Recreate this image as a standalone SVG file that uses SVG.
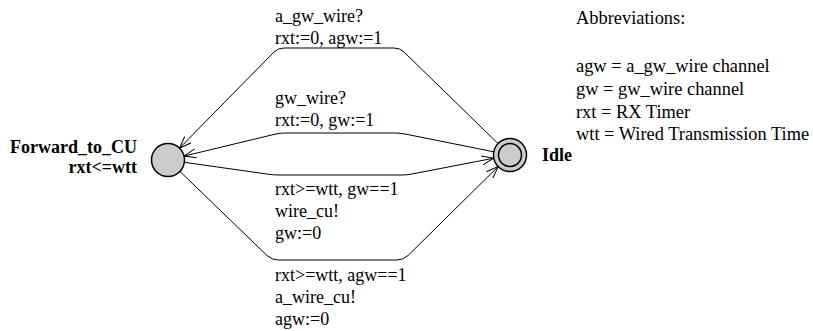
<svg xmlns="http://www.w3.org/2000/svg" width="813" height="331" viewBox="0 0 813 331">
  <style>
    text { font-family: "Liberation Serif", "Times New Roman", serif; font-size: 18px; fill: #000; }
    .loc { font-weight: bold; }
    .note { font-size: 18.4px; }
    .state { fill: #cccccc; stroke: #000; stroke-width: 1.5; }
    .edge { fill: none; stroke: #000; stroke-width: 1; }
  </style>
  <defs>
    <marker id="arrow" viewBox="0 0 12 10" refX="12" refY="5" markerWidth="12" markerHeight="10" markerUnits="userSpaceOnUse" orient="auto">
      <path d="M0,0.5 L12,5 L0,9.5" fill="none" stroke="#000" stroke-width="1"/>
    </marker>
  </defs>

  <!-- transitions -->
  <g id="edges">
    <!-- Idle -> Forward_to_CU on a_gw_wire? -->
    <path class="edge" marker-end="url(#arrow)" d="M498,143.5 L404,52 Q400,48 394,48 L284,48 Q278,48 274,52 L179.5,148.2"/>
    <!-- Idle -> Forward_to_CU on gw_wire? -->
    <path class="edge" marker-end="url(#arrow)" d="M493.8,151.8 L406,134.2 Q400,133 394,133 L286,133 Q280,133 275,134.2 L184,156.1"/>
    <!-- Forward_to_CU -> Idle on wire_cu! -->
    <path class="edge" marker-end="url(#arrow)" d="M184.3,162.3 L268,174.2 Q273,175 279,175 L401,175 Q407,175 412,174 L493.8,158.2"/>
    <!-- Forward_to_CU -> Idle on a_wire_cu! -->
    <path class="edge" marker-end="url(#arrow)" d="M179.9,171.4 L267,255.5 Q272,260 278,260 L397,260 Q403,260 408,255.5 L498.2,166.6"/>
  </g>

  <g id="edge-labels">
    <text x="275" y="22">a_gw_wire?</text>
    <text x="275" y="44">rxt:=0, agw:=1</text>
    <text x="275" y="104">gw_wire?</text>
    <text x="275" y="126">rxt:=0, gw:=1</text>
    <text x="275" y="195">rxt&gt;=wtt, gw==1</text>
    <text x="275" y="217">wire_cu!</text>
    <text x="275" y="239">gw:=0</text>
    <text x="275" y="281">rxt&gt;=wtt, agw==1</text>
    <text x="275" y="303">a_wire_cu!</text>
    <text x="275" y="325">agw:=0</text>
  </g>

  <!-- locations -->
  <g id="forward_to_cu">
    <circle class="state" cx="168" cy="160" r="16.5"/>
    <text class="loc" x="137" y="153" text-anchor="end">Forward_to_CU</text>
    <text class="loc" x="137" y="173" text-anchor="end">rxt&lt;=wtt</text>
  </g>

  <g id="idle">
    <circle class="state" cx="510" cy="155" r="16.5"/>
    <circle class="state" cx="510" cy="155" r="11.5"/>
    <text class="loc" x="542" y="161">Idle</text>
  </g>

  <g id="abbreviations">
    <text class="note" x="576" y="24">Abbreviations:</text>
    <text class="note" x="576" y="72">agw = a_gw_wire channel</text>
    <text class="note" x="576" y="95">gw = gw_wire channel</text>
    <text class="note" x="576" y="118">rxt = RX Timer</text>
    <text class="note" x="576" y="140">wtt = Wired Transmission Time</text>
  </g>
</svg>
